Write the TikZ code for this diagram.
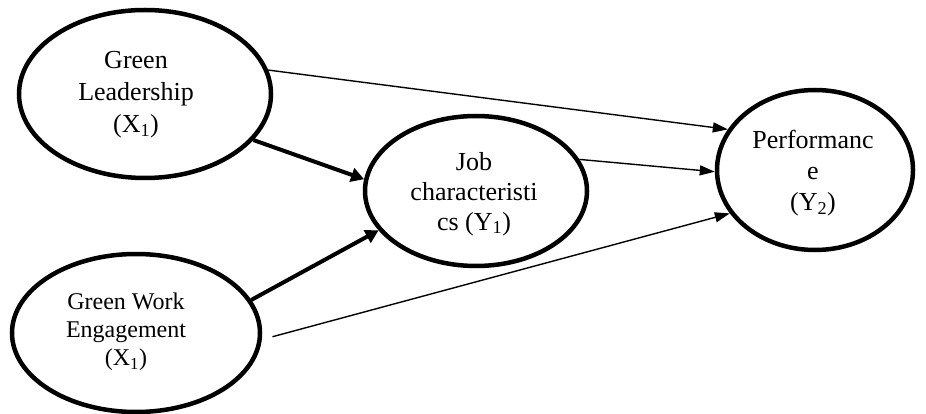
\documentclass[tikz,border=0pt]{standalone}
\usepackage{fontspec}
\setmainfont{Liberation Serif}
\usetikzlibrary{shapes.geometric,arrows.meta}
\tikzset{
  var/.style={ellipse, draw, line width=4.5pt, inner sep=0pt, fill=white},
  lbl/.style={align=center, inner sep=0pt},
  thin/.style={line width=1.4pt, -{Triangle[length=15pt,width=10pt]}},
  thick/.style={line width=4pt, -{Triangle[length=13pt,width=14pt]}},
}
\begin{document}
\begin{tikzpicture}[x=1pt,y=-1pt]
\useasboundingbox (0,0) rectangle (926,414);
\node[var, minimum width=252pt, minimum height=168pt] (gl) at (145,94) {};
\node[var, minimum width=222pt, minimum height=150pt] (job) at (476,191) {};
\node[var, minimum width=196pt, minimum height=160pt] (perf) at (815,170) {};
\node[var, minimum width=248pt, minimum height=158pt] (gwe) at (136,333) {};
\node[lbl, font=\fontsize{26}{32}\selectfont] (glt) at (136,95) {Green\\Leadership\\(X\textsubscript{1})};
\node[lbl, font=\fontsize{26}{30}\selectfont] (jobt) at (474,194) {Job\\characteristi\\cs (Y\textsubscript{1})};
\node[lbl, font=\fontsize{26}{31}\selectfont] (perft) at (813,173) {Performanc\\e\\(Y\textsubscript{2})};
\node[lbl, font=\fontsize{24}{28}\selectfont] (gwet) at (126,332) {Green Work\\Engagement\\(X\textsubscript{1})};
\draw[thin] (gl.11) -- (perf.155);
\draw[thick] (gl.-23) -- (job.174);
\draw[thick] (gwe.16) -- (job.-158);
\draw[thin] (job.17) -- (perf.181);
\draw[thin, shorten <=11pt] (gwe.-3) -- (perf.-153);
\end{tikzpicture}
\end{document}
